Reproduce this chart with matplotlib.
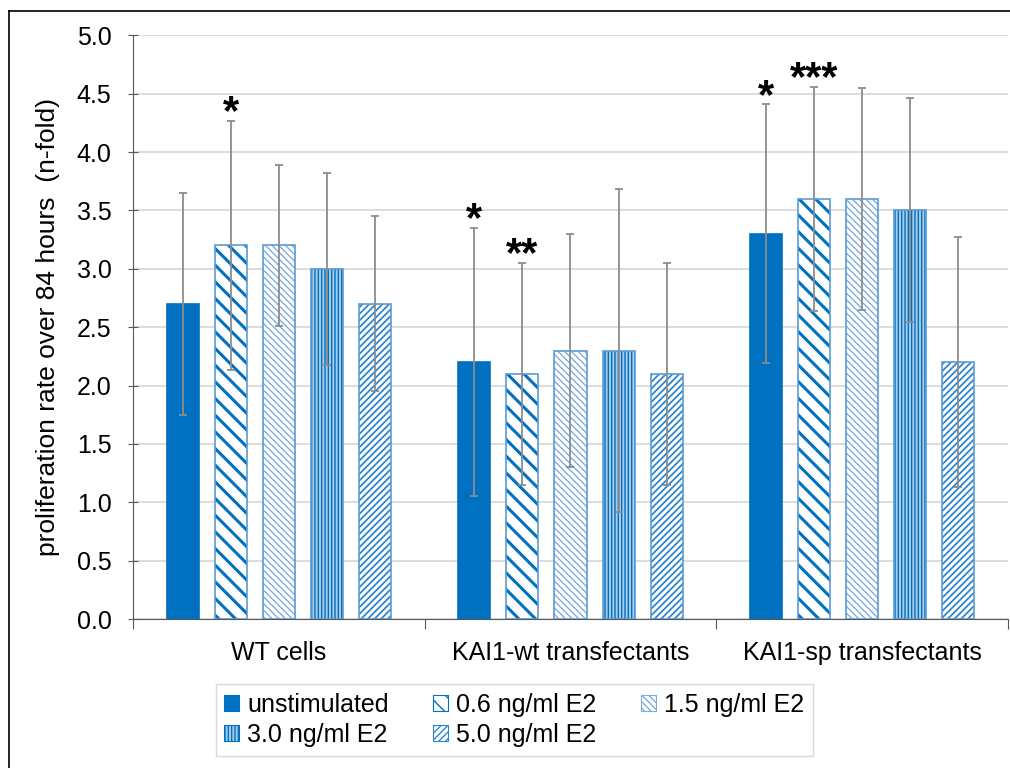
import matplotlib
matplotlib.use("Agg")
import matplotlib.pyplot as plt
import numpy as np
from matplotlib.lines import Line2D
from matplotlib.patches import Patch

plt.rcParams["font.family"] = ["Liberation Sans", "DejaVu Sans"]

groups = ["WT cells", "KAI1-wt transfectants", "KAI1-sp transfectants"]
series = ["unstimulated", "0.6 ng/ml E2", "1.5 ng/ml E2", "3.0 ng/ml E2", "5.0 ng/ml E2"]

# values per series, one entry per group
unstim = [2.7, 2.2, 3.3]
e2_06 = [3.2, 2.1, 3.6]
e2_15 = [3.2, 2.3, 3.6]
e2_30 = [3.0, 2.3, 3.5]
e2_50 = [2.7, 2.1, 2.2]

err_unstim = [0.95, 1.15, 1.11]
err_06 = [1.07, 0.95, 0.96]
err_15 = [0.69, 1.0, 0.95]
err_30 = [0.82, 1.38, 0.96]
err_50 = [0.75, 0.95, 1.07]

# significance marks: (group, series index, text)
stars = [(0, 1, "*"), (1, 0, "*"), (1, 1, "**"), (2, 0, "*"), (2, 1, "***")]

values = [unstim, e2_06, e2_15, e2_30, e2_50]
errors = [err_unstim, err_06, err_15, err_30, err_50]

blue = "#0070C0"
edge = "#5B9BD5"
styles = [
    dict(face=blue, hatch=None, hcol=blue, hlw=1.0),
    dict(face="white", hatch="\\\\", hcol=blue, hlw=2.2),
    dict(face="white", hatch="\\\\\\\\\\", hcol="#7FAEDC", hlw=1.0),
    dict(face="#A9CCEB", hatch="|||||", hcol=blue, hlw=1.0),
    dict(face="white", hatch="/////", hcol="#2E86CE", hlw=1.3),
]

fig = plt.figure(figsize=(10.1, 7.68), dpi=100)
ax = fig.add_axes([0.1317, 0.194, 0.8663, 0.760])

x = np.arange(len(groups)) + 0.5
step = 0.165
width = 0.11

for i, (vals, errs, st) in enumerate(zip(values, errors, styles)):
    pos = x + (i - 2) * step
    with plt.rc_context({"hatch.linewidth": st["hlw"], "hatch.color": st["hcol"]}):
        bars = ax.bar(pos, vals, width, color=st["face"], hatch=st["hatch"],
                      edgecolor=st["hcol"], linewidth=0, zorder=2)
        for b in bars:
            if hasattr(b, "set_hatch_linewidth"):
                b.set_hatch_linewidth(st["hlw"])
    ax.bar(pos, vals, width, fill=False, edgecolor=edge if i else blue,
           linewidth=1.2, zorder=3)
    ax.errorbar(pos, vals, yerr=errs, fmt="none", ecolor="#8C8C8C",
                elinewidth=1.3, capsize=3, capthick=1.3, zorder=4)

for g, s, txt in stars:
    xp = x[g] + (s - 2) * step
    top = values[s][g] + errors[s][g]
    ax.text(xp, top - 0.03, txt, ha="center", va="baseline", fontsize=30,
            fontweight="bold", color="black", zorder=5)

ax.set_xlim(0, 3)
ax.set_ylim(0, 5.0)
ax.set_yticks(np.arange(0, 5.01, 0.5))
ax.set_yticklabels([f"{v:.1f}" for v in np.arange(0, 5.01, 0.5)], fontsize=18)
ax.yaxis.grid(True, color="#D9D9D9", linewidth=1.3, zorder=0)
ax.set_axisbelow(True)

ax.set_xticks([0, 1, 2, 3])
ax.set_xticklabels([])
ax.set_xticks(x, minor=True)
ax.set_xticklabels(groups, minor=True, fontsize=18)
ax.tick_params(axis="x", which="minor", length=0, pad=16)
ax.tick_params(axis="x", which="major", length=7, direction="out", color="#595959")
ax.tick_params(axis="y", length=7, direction="inout", color="#595959", pad=12)

for sp in ["top", "right"]:
    ax.spines[sp].set_visible(False)
ax.spines["left"].set_color("#595959")
ax.spines["bottom"].set_color("#595959")

ax.set_ylabel("proliferation rate over 84 hours  (n-fold)", fontsize=19, labelpad=12)

handles = []
for i, st in enumerate(styles):
    with plt.rc_context({"hatch.linewidth": min(st["hlw"], 1.2), "hatch.color": st["hcol"]}):
        h = Patch(facecolor=st["face"], hatch=st["hatch"], edgecolor=st["hcol"] if i else blue,
                  linewidth=0.8)
    handles.append(h)
# reorder so legend reads row by row
order = [0, 3, 1, 4, 2]
leg = fig.legend([handles[k] for k in order], [series[k] for k in order],
                 loc="center", bbox_to_anchor=(0.509, 0.0625), ncol=3,
                 fontsize=18, frameon=True, fancybox=False, edgecolor="#D0D0D0",
                 handlelength=0.6, handleheight=0.6, handletextpad=0.3,
                 columnspacing=1.8, borderpad=0.35, labelspacing=0.25)
leg.get_frame().set_linewidth(1.0)

fig.add_artist(Line2D([0.009, 1.0], [0.9857, 0.9857], color="black", lw=1.2,
                      transform=fig.transFigure))
fig.add_artist(Line2D([0.009, 0.009], [0.0, 0.9857], color="black", lw=1.2,
                      transform=fig.transFigure))

fig.savefig("out.png", dpi=100)
